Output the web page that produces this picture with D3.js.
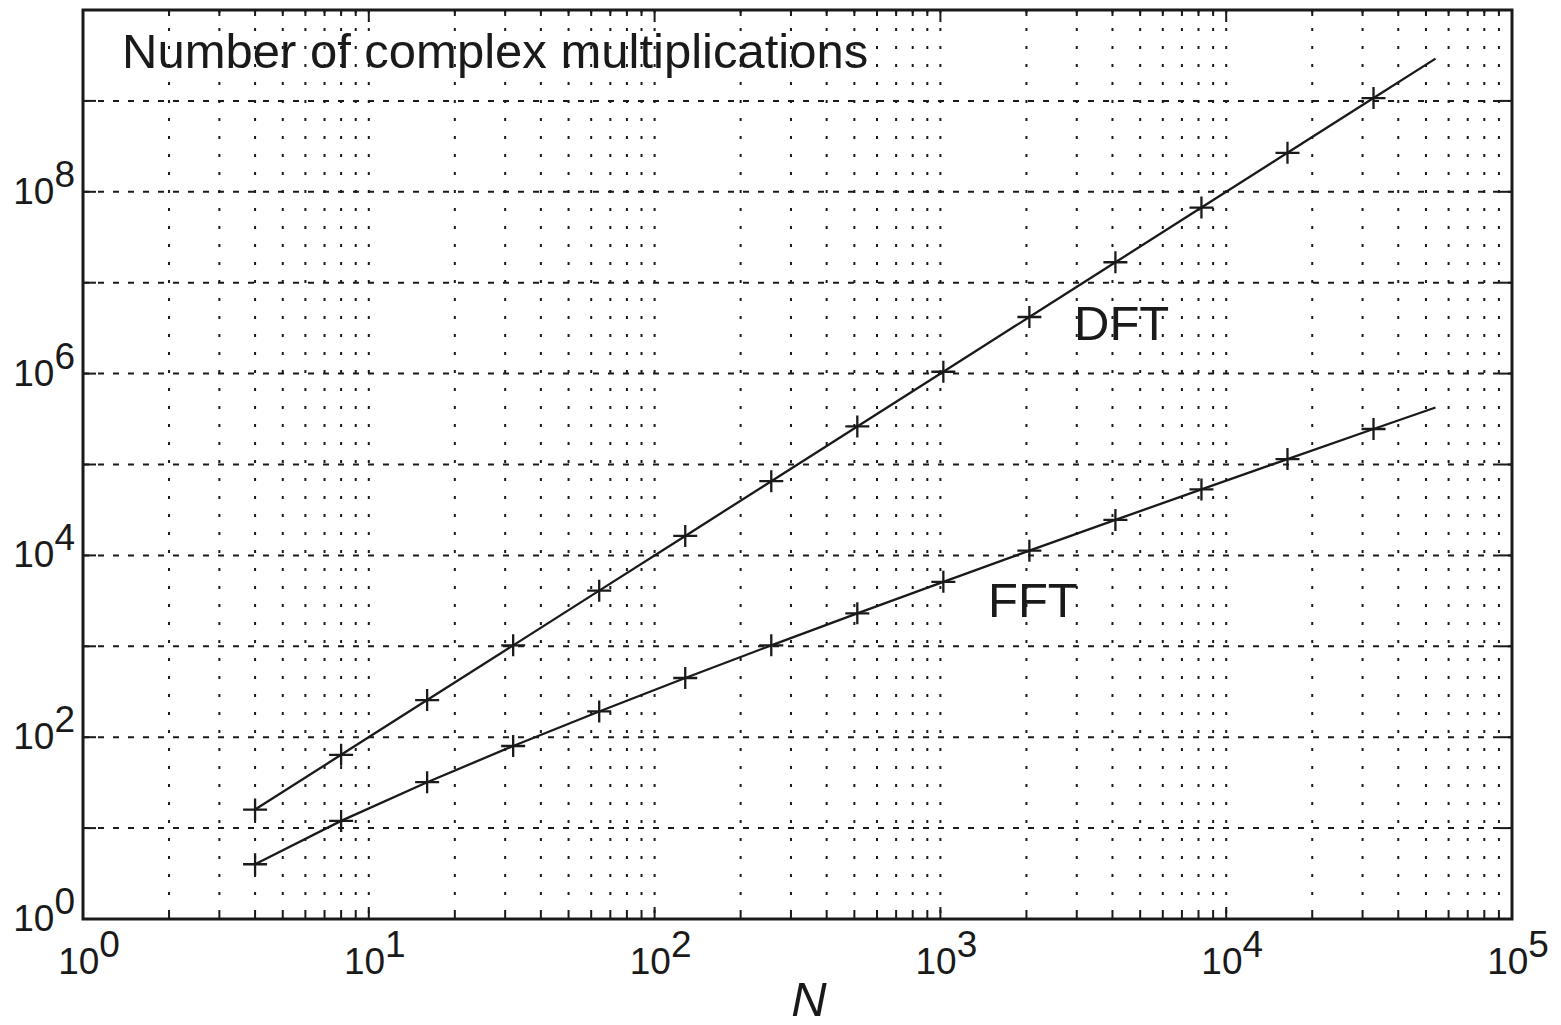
<!DOCTYPE html>
<html>
<head>
<meta charset="utf-8">
<script src="https://cdn.jsdelivr.net/npm/d3@7"></script>
<style>
  body { margin: 0; background: #fff; }
  text { font-family: "Liberation Sans", Arial, Helvetica, sans-serif; fill: #1a1a1a; }
</style>
</head>
<body>
<script>
var width = 1561;
var height = 1025;
var margin = {left: 83, right: 49, top: 10, bottom: 106};

// transform sizes N (markers) and number of complex multiplications
var sizeN = [4, 8, 16, 32, 64, 128, 256, 512, 1024, 2048, 4096, 8192, 16384, 32768];
var dftMults = [16, 64, 256, 1024, 4096, 16384, 65536, 262144, 1048576, 4194304,
                16777216, 67108864, 268435456, 1073741824];
var fftMults = [4, 12, 32, 80, 192, 448, 1024, 2304, 5120, 11264, 24576, 53248, 114688, 245760];

// the curves run a bit past the last marker
var lineEndN = 54000;
var dftEnd = 2.92e9;
var fftEnd = 424000;

var xDecades = [1, 10, 100, 1000, 10000, 100000];
var xLabels = ["0", "1", "2", "3", "4", "5"];
var yDecades = [1, 1e1, 1e2, 1e3, 1e4, 1e5, 1e6, 1e7, 1e8, 1e9, 1e10];
var yLabelValues = [1, 1e2, 1e4, 1e6, 1e8];
var yLabels = ["0", "2", "4", "6", "8"];

var svg = d3.select("body")
    .append("svg")
    .attr("width", width)
    .attr("height", height)
    .style("display", "block")
    .style("background-color", "#fff");

var x = d3.scaleLog()
    .domain([1, 1e5])
    .range([margin.left, width - margin.right]);

var y = d3.scaleLog()
    .domain([1, 1e10])
    .range([height - margin.bottom, margin.top]);

var plotTop = margin.top, plotBottom = height - margin.bottom;
var plotLeft = margin.left, plotRight = width - margin.right;

// minor + major x positions (1..9 per decade)
var xGrid = [];
for (var k = 0; k < 5; k++) {
    for (var m = 1; m <= 9; m++) {
        var v = m * Math.pow(10, k);
        if (v > 1) xGrid.push(v);
    }
}
xGrid.push(1e5);

// vertical dotted grid
svg.append("g")
    .selectAll("line")
    .data(xGrid.filter(function(d) { return d < 1e5; }))
    .join("line")
    .attr("x1", function(d) { return x(d); })
    .attr("x2", function(d) { return x(d); })
    .attr("y1", plotTop)
    .attr("y2", plotBottom)
    .attr("stroke", "#1a1a1a")
    .attr("stroke-width", 2)
    .attr("stroke-dasharray", "3,15");

// horizontal dashed grid
svg.append("g")
    .selectAll("line")
    .data(yDecades.filter(function(d) { return d > 1 && d < 1e10; }))
    .join("line")
    .attr("x1", plotLeft)
    .attr("x2", plotRight)
    .attr("y1", function(d) { return y(d); })
    .attr("y2", function(d) { return y(d); })
    .attr("stroke", "#1a1a1a")
    .attr("stroke-width", 2)
    .attr("stroke-dasharray", "6,9");

// ticks, pointing inward on all four sides
var ticks = svg.append("g").attr("stroke", "#1a1a1a").attr("stroke-width", 2);

ticks.selectAll(".xt")
    .data(xGrid)
    .join("line")
    .attr("x1", function(d) { return x(d); })
    .attr("x2", function(d) { return x(d); })
    .attr("y1", plotBottom)
    .attr("y2", function(d) { return plotBottom - (xDecades.indexOf(d) >= 0 ? 12 : 6); });

ticks.selectAll(".xt2")
    .data(xGrid)
    .join("line")
    .attr("x1", function(d) { return x(d); })
    .attr("x2", function(d) { return x(d); })
    .attr("y1", plotTop)
    .attr("y2", function(d) { return plotTop + (xDecades.indexOf(d) >= 0 ? 12 : 6); });

ticks.selectAll(".yt")
    .data(yDecades)
    .join("line")
    .attr("x1", plotLeft)
    .attr("x2", plotLeft + 13)
    .attr("y1", function(d) { return y(d); })
    .attr("y2", function(d) { return y(d); });

ticks.selectAll(".yt2")
    .data(yDecades)
    .join("line")
    .attr("x1", plotRight)
    .attr("x2", plotRight - 13)
    .attr("y1", function(d) { return y(d); })
    .attr("y2", function(d) { return y(d); });

// curves
var line = d3.line()
    .x(function(d) { return x(d[0]); })
    .y(function(d) { return y(d[1]); });

var dftPts = d3.zip(sizeN, dftMults).concat([[lineEndN, dftEnd]]);
var fftPts = d3.zip(sizeN, fftMults).concat([[lineEndN, fftEnd]]);

[dftPts, fftPts].forEach(function(pts, i) {
    svg.append("path")
        .datum(pts)
        .attr("d", line)
        .attr("fill", "none")
        .attr("stroke", "#1a1a1a")
        .attr("stroke-width", 2.3);

    var markers = i === 0 ? d3.zip(sizeN, dftMults) : d3.zip(sizeN, fftMults);
    svg.append("g")
        .selectAll("path")
        .data(markers)
        .join("path")
        .attr("transform", function(d) { return "translate(" + x(d[0]) + "," + y(d[1]) + ")"; })
        .attr("d", "M-12,0H12M0,-11V11")
        .attr("stroke", "#1a1a1a")
        .attr("stroke-width", 2.3)
        .attr("fill", "none");
});

// frame
svg.append("rect")
    .attr("x", plotLeft)
    .attr("y", plotTop)
    .attr("width", plotRight - plotLeft)
    .attr("height", plotBottom - plotTop)
    .attr("fill", "none")
    .attr("stroke", "#1a1a1a")
    .attr("stroke-width", 3);

// tick labels as 10^k
function powerLabel(g, px, py, exp, anchor) {
    var t = g.append("text")
        .attr("x", px)
        .attr("y", py)
        .attr("text-anchor", anchor)
        .attr("font-size", "37px");
    t.append("tspan").text("10");
    t.append("tspan").attr("dy", -17).text(exp);
}

var labels = svg.append("g");
xDecades.forEach(function(d, i) {
    powerLabel(labels, x(d) + 6, plotBottom + 55, xLabels[i], "middle");
});
yLabelValues.forEach(function(d, i) {
    powerLabel(labels, plotLeft - 8, y(d) + 12, yLabels[i], "end");
});

addText(122, 68, "Number of complex multiplications", "normal", "start");
addText(1074, 340, "DFT", "normal", "start");
addText(988, 617, "FFT", "normal", "start");
addText(809, 1016, "N", "italic", "middle");

function addText(px, py, str, style, anchor) {
    svg.append("text")
        .attr("x", px)
        .attr("y", py)
        .attr("text-anchor", anchor)
        .attr("font-size", "49px")
        .attr("font-style", style)
        .text(str);
}
</script>
</body>
</html>
